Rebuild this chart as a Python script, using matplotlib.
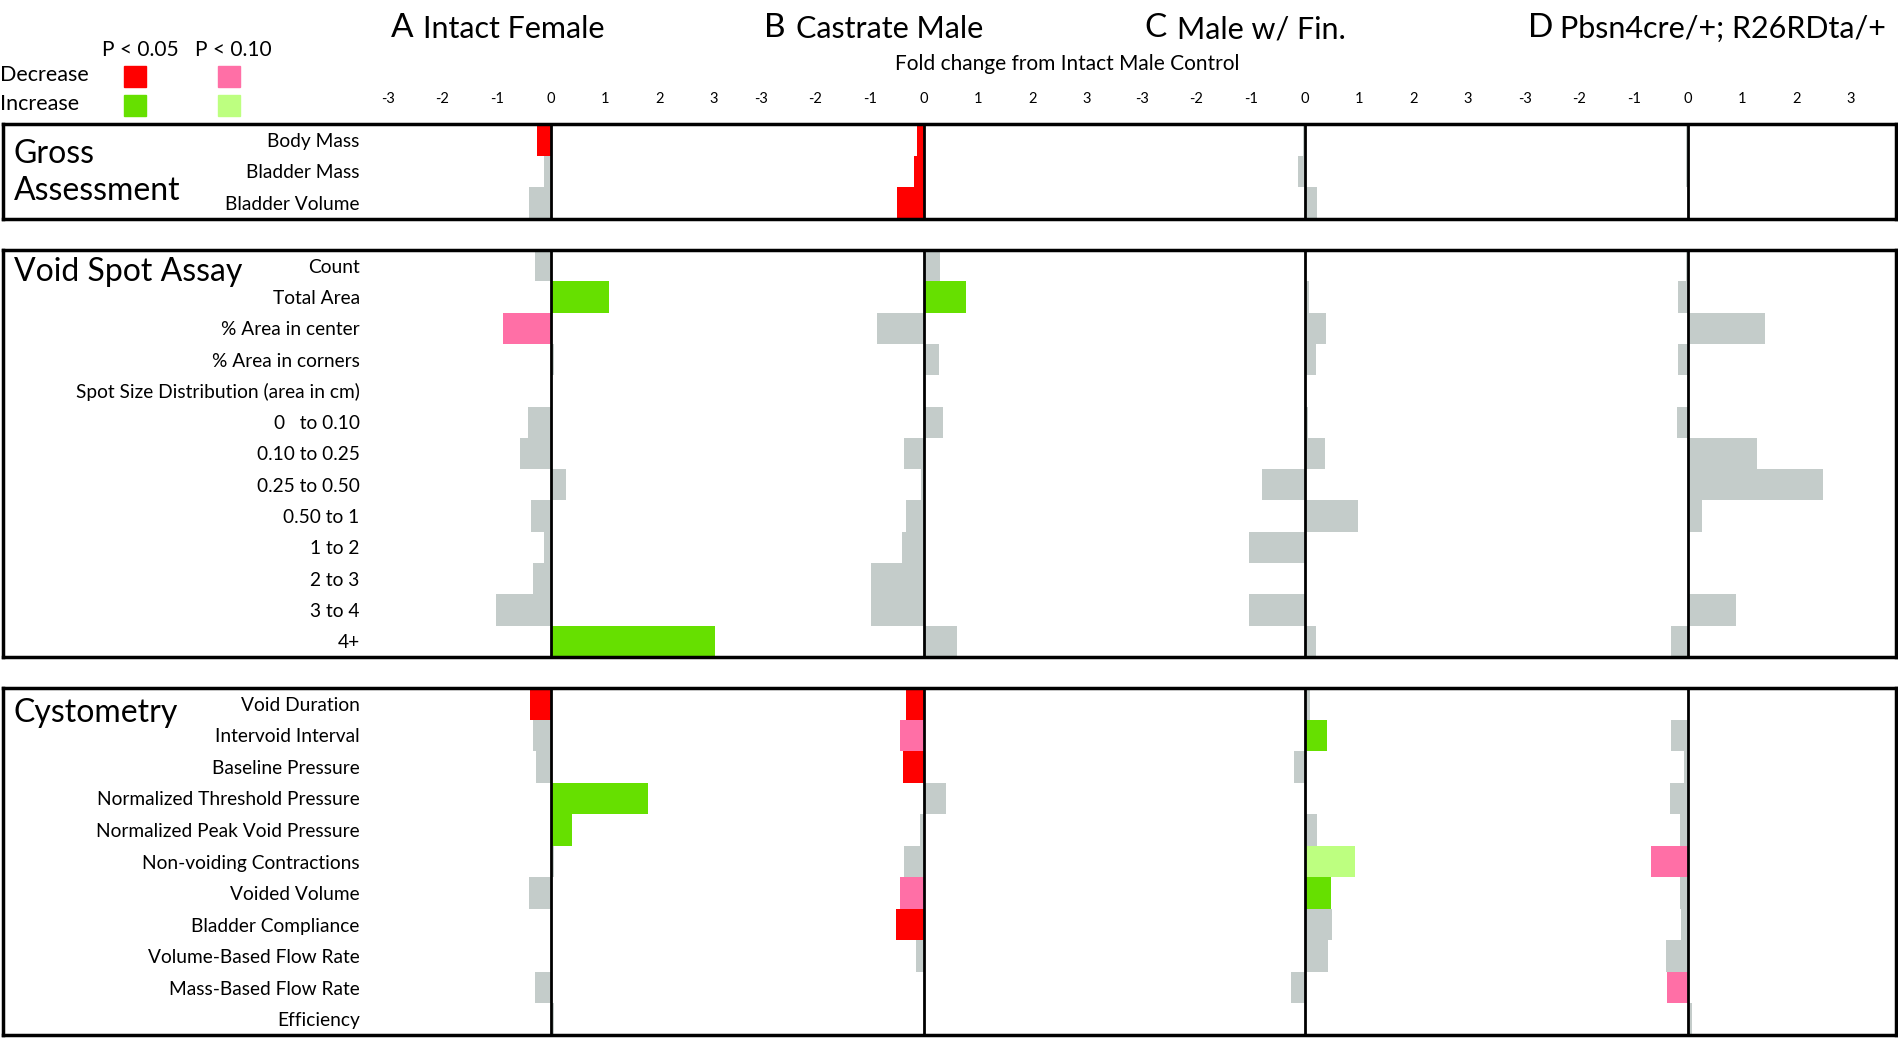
import matplotlib
matplotlib.use('Agg')
from matplotlib import pyplot as plt
from matplotlib.patches import Rectangle
from matplotlib.transforms import blended_transform_factory

W, H = 1899, 1038
FONT = ['Lato', 'DejaVu Sans']
plt.rcParams['font.family'] = FONT

letters = ['A', 'B', 'C', 'D']
panels = ['Intact Female', 'Castrate Male', 'Male w/ Fin.', 'Pbsn4cre/+; R26RDta/+']
ticks = [-3, -2, -1, 0, 1, 2, 3]

gross_rows = ['Body Mass', 'Bladder Mass', 'Bladder Volume']
gross_vals = [
    [-0.25, -0.13, -0.40],
    [-0.12, -0.19, -0.50],
    [-0.03, -0.12, 0.22],
    [-0.03, -0.03, 0.02],
]
gross_sig = [
    ['d5', 'n', 'n'],
    ['d5', 'd5', 'd5'],
    ['n', 'n', 'n'],
    ['n', 'n', 'n'],
]

void_rows = ['Count', 'Total Area', '% Area in center', '% Area in corners',
             'Spot Size Distribution (area in cm)', '0   to 0.10', '0.10 to 0.25',
             '0.25 to 0.50', '0.50 to 1', '1 to 2', '2 to 3', '3 to 4', '4+']
void_vals = [
    [-0.30, 1.07, -0.88, 0.05, 0, -0.43, -0.57, 0.28, -0.36, -0.12, -0.34, -1.01, 3.02],
    [0.29, 0.77, -0.86, 0.27, 0, 0.35, -0.36, -0.05, -0.33, -0.41, -0.97, -0.97, 0.60],
    [0.0, 0.07, 0.38, 0.20, 0, 0.05, 0.36, -0.80, 0.97, -1.03, 0.0, -1.03, 0.21],
    [-0.03, -0.19, 1.41, -0.19, 0, -0.21, 1.27, 2.48, 0.25, 0.0, 0.0, 0.88, -0.31],
]
void_sig = [
    ['n', 'i5', 'd10', 'n', 'n', 'n', 'n', 'n', 'n', 'n', 'n', 'n', 'i5'],
    ['n', 'i5', 'n', 'n', 'n', 'n', 'n', 'n', 'n', 'n', 'n', 'n', 'n'],
    ['n'] * 13,
    ['n'] * 13,
]

cysto_rows = ['Void Duration', 'Intervoid Interval', 'Baseline Pressure',
              'Normalized Threshold Pressure', 'Normalized Peak Void Pressure',
              'Non-voiding Contractions', 'Voided Volume', 'Bladder Compliance',
              'Volume-Based Flow Rate', 'Mass-Based Flow Rate', 'Efficiency']
cysto_vals = [
    [-0.38, -0.34, -0.28, 1.79, 0.38, 0.05, -0.41, 0.0, 0.0, -0.29, 0.05],
    [-0.33, -0.45, -0.38, 0.41, -0.07, -0.37, -0.45, -0.52, -0.15, 0.0, 0.0],
    [0.10, 0.40, -0.21, 0.0, 0.22, 0.92, 0.48, 0.50, 0.42, -0.26, 0.0],
    [0.0, -0.32, -0.07, -0.33, -0.14, -0.68, -0.14, -0.12, -0.40, -0.38, 0.07],
]
cysto_sig = [
    ['d5', 'n', 'n', 'i5', 'i5', 'n', 'n', 'n', 'n', 'n', 'n'],
    ['d5', 'd10', 'd5', 'n', 'n', 'n', 'd10', 'd5', 'n', 'n', 'n'],
    ['n', 'i5', 'n', 'n', 'n', 'i10', 'i5', 'n', 'n', 'n', 'n'],
    ['n', 'n', 'n', 'n', 'n', 'd10', 'n', 'n', 'n', 'd10', 'n'],
]

colors = {'n': '#C4CCCA', 'd5': '#FF0000', 'd10': '#FF6FA6',
          'i5': '#66E000', 'i10': '#BDFF80'}

# layout in pixels
zeros = [551, 924, 1305, 1688]
bounds = [368, 737, 1114, 1496, 1896]
px_per_unit = 54.3
box_left, box_right = 3, 1896
sections = [
    ('gross', ['Gross', 'Assessment'], gross_rows, gross_vals, gross_sig, 124, 219),
    ('void', ['Void Spot Assay'], void_rows, void_vals, void_sig, 250, 657),
    ('cysto', ['Cystometry'], cysto_rows, cysto_vals, cysto_sig, 688, 1035),
]


def rect(x0, y0, x1, y1):
    return [x0 / W, 1 - y1 / H, (x1 - x0) / W, (y1 - y0) / H]


fig = plt.figure(figsize=(W / 100, H / 100), dpi=100)

for name, title, rows, vals, sig, top, bot in sections:
    n = len(rows)
    for p in range(4):
        ax = fig.add_axes(rect(bounds[p], top, bounds[p + 1], bot))
        ax.set_facecolor('none')
        lo = (bounds[p] - zeros[p]) / px_per_unit
        hi = (bounds[p + 1] - zeros[p]) / px_per_unit
        ax.barh(range(n), vals[p], height=1.0,
                color=[colors[c] for c in sig[p]], zorder=2)
        ax.axvline(0, color='black', lw=2, zorder=3)
        ax.set_xlim(lo, hi)
        ax.set_ylim(n - 0.5, -0.5)
        for s in ax.spines.values():
            s.set_visible(False)
        if name == 'gross':
            ax.xaxis.tick_top()
            ax.set_xticks(ticks)
            ax.set_xticklabels([str(t) for t in ticks])
            ax.tick_params(axis='x', length=0, pad=13, labelsize=10.5)
        else:
            ax.set_xticks([])
        if p == 0:
            ax.set_yticks(range(n))
            ax.set_yticklabels(rows)
            ax.tick_params(axis='y', length=0, pad=6, labelsize=13.8)
        else:
            ax.set_yticks([])
        if name == 'gross':
            tr = blended_transform_factory(ax.transData, fig.transFigure)
            ax.text(-2.95, 1 - 28 / H, letters[p], transform=tr, fontsize=24,
                    ha='left', va='center')
            ax.text(-2.35, 1 - 29 / H, panels[p], transform=tr, fontsize=22,
                    ha='left', va='center')

    frame = fig.add_axes(rect(box_left, top, box_right, bot))
    frame.set_facecolor('none')
    frame.set_xticks([])
    frame.set_yticks([])
    for s in frame.spines.values():
        s.set_linewidth(2.5)
    frame.set_zorder(5)
    if len(title) == 2:
        fig.text(14 / W, 1 - 154 / H, title[0], fontsize=23, va='center')
        fig.text(14 / W, 1 - 191 / H, title[1], fontsize=23, va='center')
    elif name == 'void':
        fig.text(14 / W, 1 - (top + 22) / H, title[0], fontsize=23, va='center')
    else:
        fig.text(14 / W, 1 - (top + 25) / H, title[0], fontsize=23, va='center')

fig.text(1067 / W, 1 - 64 / H, 'Fold change from Intact Male Control',
         fontsize=15, ha='center', va='center')

# significance key
fig.text(140 / W, 1 - 50 / H, 'P < 0.05', fontsize=15, ha='center', va='center')
fig.text(233 / W, 1 - 50 / H, 'P < 0.10', fontsize=15, ha='center', va='center')
fig.text(0, 1 - 75 / H, 'Decrease', fontsize=15.5, va='center')
fig.text(0, 1 - 104 / H, 'Increase', fontsize=15.5, va='center')
key = fig.add_axes([0, 0, 1, 1])
key.set_xlim(0, W)
key.set_ylim(H, 0)
key.axis('off')
key.set_zorder(-1)
for cx, cy, code in [(135, 76, 'd5'), (229, 76, 'd10'), (135, 105, 'i5'), (229, 105, 'i10')]:
    key.add_patch(Rectangle((cx - 11, cy - 10.5), 22, 21, color=colors[code]))

fig.savefig('out.png', dpi=100)
